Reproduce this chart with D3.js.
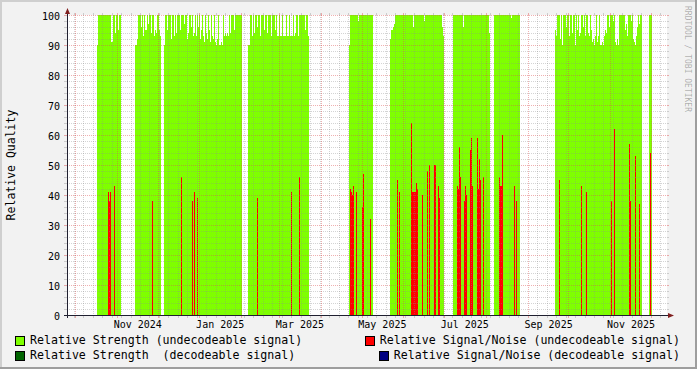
<!DOCTYPE html>
<html>
<head>
<meta charset="utf-8">
<script src="https://cdn.jsdelivr.net/npm/d3@7"></script>
<style>
  html, body { margin: 0; padding: 0; background: #f2f2f2; }
  svg { display: block; font-family: "DejaVu Sans Mono", monospace; }
  text { white-space: pre; }
</style>
</head>
<body>
<svg id="chart" width="697" height="369"></svg>
<script>
/* global d3 */
// time span of the graph and the RRA row length
const START = '2024-09-25T00:00Z';
const STEP_SEC = 63936;
const ROWS = 600;

// start of every run of recorded rows
const segStart = [
  '2024-10-17T04:48Z', '2024-11-14T07:40Z', '2024-12-05T18:43Z', '2025-02-05T22:34Z',
  '2025-04-21T16:19Z', '2025-05-22T00:29Z', '2025-07-07T15:22Z', '2025-08-06T23:31Z',
  '2025-09-21T02:53Z', '2025-11-29T16:19Z'
];

// Relative Strength (undecodeable signal), one value per row
const strengthUndec = [
  [90,100,100,100,100,100,100,100,100,100,100,100,100,100,91,91,100,100,94,100,100,95,100,100],
  [90,90,92,100,100,100,96,100,93,100,95,95,100,97,100,100,94,100,100,93,95,94,100,100,95,93],
  [90,100,100,95,100,100,100,92,100,100, 93,100,94,100,100,100,95,100,100,100,
   97,100,100,92,94,100,100,96,100,93, 94,100,93,100,96,100,92,95,100,93,
   91,100,94,92,100,95,91,100,93,92, 100,91,90,92,100,90,90,91,90,100,
   93,94,93,94,93,100,94,100,100,100, 95,100,100,100,100,100,100,100],
  [90,90,100,100,93,100,94,100,100,96, 100,100,93,100,100,100,95,100,100,94,
   100,100,100,93,100,100,100,95,100,93, 93,100,93,93,100,93,93,93,100,93,
   93,100,93,93,93,100,93,94,100,100, 93,100,100,100,100,100,100,95,100,100, 93],
  [90,100,100,100,100,100,100,100,100,98,100,100,100,100,100,100,100,100,100,100,100,100,100,100],
  [92,95,95,96,97,100,100,100,100,100,100,100,100,100,100,100,100,100,100,100,100,100,100,96,
   100,100,100,100,100,100,100,100,100,100,98,100,100,100,100,100,100,100,100,100,100,100,100,
   100,100,100,100,100,96,93],
  [100,100,100,100,100,100,100,100,100,100,96,100,100,100,100,100,100,100,100,100,100,100,100,
   100,100,100,100,100,100,100,100,100,100,100,100,100,94],
  [100,100,100,100,100,100,100,100,100,100,100,100,100,100,100,100,100,99,100,100,100,100,100,100,100,100],
  [95,93,100,100,100,92,100,90,100,100, 100,96,100,100,93,100,100,94,100,100,
   90,100,95,100,93,94,100,100,96,100, 93,100,100,94,93,100,95,91,92,90,
   93,100,91,93,100,90,90,91,90,93, 95,94,100,100,96,100,100,100,98,100,
   91,90,92,90,100,100,100,100,100,100, 95,97,93,100,100,100,98,100,92,91,
   90,93,96,100,97,100,100],
  [100,100,100]
];

// Relative Signal/Noise (undecodeable signal): [row in run, value]
const snrUndec = [
  [[11,41],[12,38],[13,41],[17,43]],
  [[17,38]],
  [[17,46],[28,38],[30,41],[33,39]],
  [[9,39],[43,41],[51,46]],
  [[1,42],[2,41],[3,40],[4,43],[7,41],[13,36],[14,47],[21,32]],
  [[7,45],[9,41],[21,64],[22,41],[23,41],[24,41],[25,41],[26,44],[27,42],[32,40],
   [37,48],[39,50],[44,50],[45,50],[48,43],[49,39]],
  [[4,43],[5,42],[6,56],[7,46],[11,38],[12,43],[13,40],[17,55],[18,59],[19,43],
   [24,59],[25,42],[26,52],[27,45],[30,46]],
  [[5,46],[6,43],[7,43],[8,60],[20,43],[22,38]],
  [[4,45],[26,43],[31,41],[56,38],[59,62],[74,57],[75,38],[80,53],[84,37]],
  [[1,54]]
];

// decodeable signal series: nothing recorded in this period
const strengthDec = [];
const snrDec = [];

const yTicks = [0, 10, 20, 30, 40, 50, 60, 70, 80, 90, 100];

const legendNames = [
  'Relative Strength (undecodeable signal)',
  'Relative Signal/Noise (undecodeable signal)',
  'Relative Strength  (decodeable signal)',
  'Relative Signal/Noise (decodeable signal)'
];
const legendColors = ['#7fff00', '#ff0000', '#006400', '#000080'];

const W = 697, H = 369;
const MARGIN = { top: 15, left: 67, right: 30, bottom: 54 };
const STEP_MS = STEP_SEC * 1000;
const t0 = new Date(START);
const t1 = new Date(t0.getTime() + ROWS * STEP_MS);

const $svg = d3.select('#chart');

const x = d3.scaleUtc().domain([t0, t1]).range([MARGIN.left, W - MARGIN.right]);
const y = d3.scaleLinear().domain([0, 100]).range([H - MARGIN.bottom, MARGIN.top]);
const x0 = x.range()[0], x1 = x.range()[1];
const y0 = y.range()[0], y1 = y.range()[1];

// frame
$svg.append('rect').attr('width', W).attr('height', H).attr('fill', '#f2f2f2');
$svg.append('path').attr('fill', '#cfcfcf')
  .attr('d', `M0,0H${W}V2H2V${H}H0Z`);
$svg.append('path').attr('fill', '#9e9e9e')
  .attr('d', `M${W},0V${H}H0V${H - 2}H${W - 2}V0Z`);
$svg.append('rect')
  .attr('x', x0).attr('y', y1)
  .attr('width', x1 - x0).attr('height', y0 - y1)
  .attr('fill', '#fff');

// rows -> flat samples
function rowsOf(values, k) {
  const s = new Date(segStart[k]).getTime();
  return values.map((v, i) => ({ t: s + i * STEP_MS, v }));
}
const strengthRows = strengthUndec.flatMap((vals, k) => rowsOf(vals, k));
const snrRows = snrUndec.flatMap((pairs, k) => {
  const s = new Date(segStart[k]).getTime();
  return pairs.map(([i, v]) => ({ t: s + i * STEP_MS, v }));
});

function drawArea(rows, color, cls) {
  $svg.append('g').attr('class', cls)
    .attr('shape-rendering', 'crispEdges')
    .selectAll('rect')
    .data(rows)
    .join('rect')
    .attr('x', d => Math.round(x(new Date(d.t))))
    .attr('width', d => Math.round(x(new Date(d.t + STEP_MS))) - Math.round(x(new Date(d.t))))
    .attr('y', d => y(d.v))
    .attr('height', d => y0 - y(d.v))
    .attr('fill', color);
}
drawArea(strengthRows, legendColors[0], 'strength-undec');
drawArea(strengthDec, legendColors[2], 'strength-dec');
drawArea(snrRows, legendColors[1], 'snr-undec');
drawArea(snrDec, legendColors[3], 'snr-dec');

// grid
const MINOR = 'rgba(143,143,143,0.38)';
const MAJOR = 'rgba(222,79,79,0.45)';
const $grid = $svg.append('g').attr('class', 'grid').attr('shape-rendering', 'crispEdges');

const minorY = d3.range(0, 101, 2).filter(v => v % 10 !== 0);
function hLines(vals, color) {
  $grid.append('g').selectAll('line').data(vals).join('line')
    .attr('x1', x0).attr('x2', x1)
    .attr('y1', d => Math.round(y(d)) + 0.5).attr('y2', d => Math.round(y(d)) + 0.5)
    .attr('stroke', color).attr('stroke-dasharray', '1,1');
  $grid.append('g').selectAll('path').data(vals).join('path')
    .attr('d', d => `M${x0 - 3},${Math.round(y(d)) + 0.5}h3M${x1},${Math.round(y(d)) + 0.5}h2`)
    .attr('stroke', color);
}
hLines(minorY, MINOR);
hLines(yTicks, MAJOR);

const months = d3.utcMonth.range(t0, t1);
const weeks = d3.utcMonday.range(t0, t1).filter(d => d.getUTCDate() !== 1);
function vLines(vals, color) {
  $grid.append('g').selectAll('line').data(vals).join('line')
    .attr('x1', d => Math.round(x(d)) + 0.5).attr('x2', d => Math.round(x(d)) + 0.5)
    .attr('y1', y1).attr('y2', y0)
    .attr('stroke', color).attr('stroke-dasharray', '1,1');
  $grid.append('g').selectAll('path').data(vals).join('path')
    .attr('d', d => `M${Math.round(x(d)) + 0.5},${y0}v3M${Math.round(x(d)) + 0.5},${y1 - 2}v2`)
    .attr('stroke', color);
}
vLines(weeks, MINOR);
vLines(months, MAJOR);

// axes lines + arrows
const AXIS = '#202030';
const ARROW = '#801f1f';
$svg.append('path').attr('stroke', AXIS).attr('fill', 'none')
  .attr('shape-rendering', 'crispEdges')
  .attr('d', `M${x0 - 3},${y0 + 0.5}H${x1 + 3}M${x0 + 0.5},${y0 + 3}V${y1 - 4}`);
$svg.append('path').attr('fill', ARROW)
  .attr('d', `M${x1 + 1},${y0 - 2}L${x1 + 7},${y0 + 0.5}L${x1 + 1},${y0 + 3}Z`);
$svg.append('path').attr('fill', ARROW)
  .attr('d', `M${x0 - 2},${y1 - 1}L${x0 + 0.5},${y1 - 7}L${x0 + 3},${y1 - 1}Z`);

// x labels: every 2nd month, centred half a month later (rrdtool style)
const HALF = 15 * 24 * 3600 * 1000;
const labelMonths = d3.utcMonth.every(2).range(t0, t1)
  .filter(d => d.getTime() <= t1.getTime() - HALF);
const fmt = d3.utcFormat('%b %Y');
const axisX = d3.axisBottom(x)
  .tickValues(labelMonths.map(d => new Date(d.getTime() + HALF)))
  .tickFormat(d => fmt(new Date(d.getTime() - HALF)))
  .tickSize(0);
const $ax = $svg.append('g').attr('transform', `translate(0,${y0})`).call(axisX);
$ax.select('.domain').remove();
$ax.selectAll('text')
  .attr('y', 12.5).attr('dy', null)
  .attr('fill', '#000')
  .style('font-family', '"DejaVu Sans Mono", monospace')
  .style('font-size', '10px');

const axisY = d3.axisLeft(y).tickValues(yTicks).tickSize(0).tickPadding(7);
const $ay = $svg.append('g').attr('transform', `translate(${x0},0)`).call(axisY);
$ay.select('.domain').remove();
$ay.selectAll('text')
  .attr('dy', '0.4em')
  .attr('fill', '#000')
  .style('font-family', '"DejaVu Sans Mono", monospace')
  .style('font-size', '10px');

// y title
$svg.append('text')
  .text('Relative Quality')
  .attr('transform', `translate(14.5,${(y0 + y1) / 2}) rotate(-90)`)
  .attr('text-anchor', 'middle')
  .style('font-size', '11.5px');

// watermark
$svg.append('text')
  .text('RRDTOOL / TOBI OETIKER')
  .attr('transform', `translate(685,59) rotate(90)`)
  .attr('text-anchor', 'middle')
  .attr('fill', 'rgba(0,0,0,0.3)')
  .style('font-size', '8px');

// legend: left column starts at the edge, right column is right-justified
const legend = legendNames.map((name, i) => ({ name, color: legendColors[i], col: i % 2, row: Math.floor(i / 2) }));
const $leg = $svg.append('g').attr('class', 'legend').style('font-size', '11.6px');
const $item = $leg.selectAll('g').data(legend).join('g')
  .attr('transform', d => `translate(0,${344 + d.row * 15})`);
$item.append('text')
  .text(d => d.name)
  .attr('x', d => d.col === 0 ? 30 : 680)
  .attr('text-anchor', d => d.col === 0 ? 'start' : 'end');
$item.each(function (d) {
  const g = d3.select(this);
  const tx = d.col === 0 ? 30 : 680 - g.select('text').node().getComputedTextLength();
  g.insert('rect', 'text')
    .attr('x', Math.round(tx) - 14.5).attr('y', -7.5)
    .attr('width', 9).attr('height', 9)
    .attr('fill', d.color).attr('stroke', '#000');
});
</script>
</body>
</html>
